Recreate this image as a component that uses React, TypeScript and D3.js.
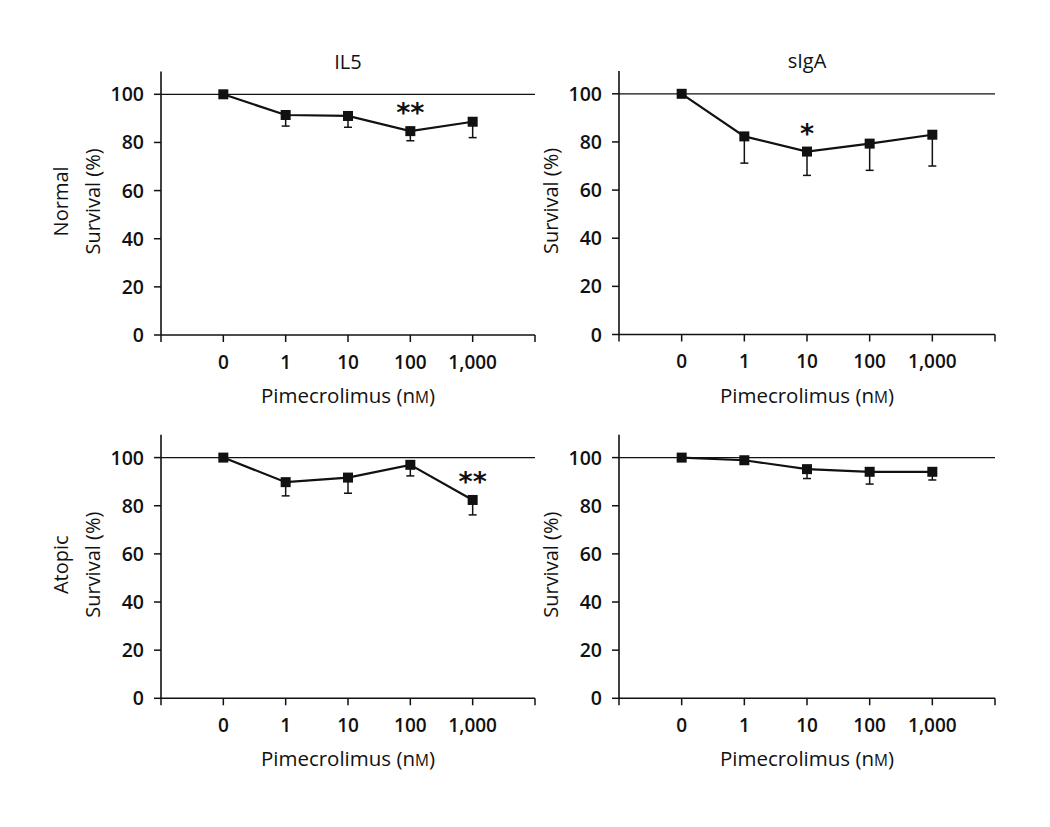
import React from "react";
import * as d3 from "d3";

const doses = ["0", "1", "10", "100", "1,000"];
const yTicks = [0, 20, 40, 60, 80, 100];

const il5NormalMean = [100, 91.4, 91, 84.7, 88.6];
const il5NormalErr = [0, 4.6, 4.7, 4.0, 6.6];
const sigaNormalMean = [100, 82.3, 76, 79.3, 83];
const sigaNormalErr = [0, 11.1, 9.9, 11.1, 13];
const il5AtopicMean = [100, 89.8, 91.7, 97, 82.4];
const il5AtopicErr = [0, 5.7, 6.5, 4.6, 6.2];
const sigaAtopicMean = [100, 98.9, 95.2, 94.1, 94.1];
const sigaAtopicErr = [0, 1, 3.9, 5.1, 3.4];

const il5NormalSig = [null, null, null, "**", null];
const sigaNormalSig = [null, null, "*", null, null];
const il5AtopicSig = [null, null, null, null, "**"];
const sigaAtopicSig = [null, null, null, null, null];

const FONT = "'Open Sans', 'DejaVu Sans', sans-serif";
const INK = "#111";

type PanelProps = {
  x0: number;
  y0: number;
  width: number;
  mean: number[];
  err: number[];
  sig: (string | null)[];
  title?: string;
  rowLabel?: string;
};

function Panel({ x0, y0, width, mean, err, sig, title, rowLabel }: PanelProps) {
  const y = d3.scaleLinear().domain([0, 100]).range([y0, y0 - 240.7]);
  const slots = ["", ...doses, " "];
  const x = d3.scalePoint<string>().domain(slots).range([x0, x0 + width]);
  const line = d3
    .line<number>()
    .x((_, i) => x(doses[i]) as number)
    .y((d) => y(d));
  const axisTop = y(109.5);
  const right = x0 + width;
  const midX = x(doses[2]) as number;
  const labelY = y(55.5);
  return (
    <g>
      {title && (
        <text x={midX} y={y0 - 266.5} textAnchor="middle" fontSize={20} fontFamily={FONT} fill={INK}>
          {title}
        </text>
      )}
      {rowLabel && (
        <text
          transform={`translate(${x0 - 100},${labelY}) rotate(-90)`}
          textAnchor="middle"
          dy="0.35em"
          fontSize={20}
          fontFamily={FONT}
          fill={INK}
        >
          {rowLabel}
        </text>
      )}
      <text
        transform={`translate(${x0 - 68},${labelY}) rotate(-90)`}
        textAnchor="middle"
        dy="0.35em"
        fontSize={20}
        fontFamily={FONT}
        fill={INK}
      >
        Survival (%)
      </text>
      <line x1={x0} x2={right} y1={y(100)} y2={y(100)} stroke={INK} strokeWidth={1.2} />
      <line x1={x0} x2={x0} y1={axisTop} y2={y0} stroke={INK} strokeWidth={1.6} />
      {yTicks.map((t) => (
        <g key={t}>
          <line x1={x0 - 7} x2={x0} y1={y(t)} y2={y(t)} stroke={INK} strokeWidth={1.5} />
          <text
            x={x0 - 17}
            y={y(t)}
            dy="0.36em"
            textAnchor="end"
            fontSize={19.5}
            fontWeight={600}
            fontFamily={FONT}
            fill={INK}
          >
            {t}
          </text>
        </g>
      ))}
      <line x1={x0} x2={right} y1={y0} y2={y0} stroke={INK} strokeWidth={1.6} />
      {slots.map((s, i) => (
        <line
          key={i}
          x1={x(s) as number}
          x2={x(s) as number}
          y1={y0}
          y2={y0 + 7}
          stroke={INK}
          strokeWidth={1.5}
        />
      ))}
      {doses.map((d) => (
        <text
          key={d}
          x={x(d) as number}
          y={y0 + 27}
          dy="0.36em"
          textAnchor="middle"
          fontSize={19}
          fontWeight={600}
          fontFamily={FONT}
          fill={INK}
        >
          {d}
        </text>
      ))}
      <text x={midX} y={y0 + 68} textAnchor="middle" fontSize={20.5} fontFamily={FONT} fill={INK}>
        Pimecrolimus (n<tspan fontSize={15.5}>M</tspan>)
      </text>
      {mean.map((m, i) =>
        err[i] > 0 ? (
          <g key={"e" + i}>
            <line
              x1={x(doses[i]) as number}
              x2={x(doses[i]) as number}
              y1={y(m)}
              y2={y(m - err[i])}
              stroke={INK}
              strokeWidth={1.5}
            />
            <line
              x1={(x(doses[i]) as number) - 4}
              x2={(x(doses[i]) as number) + 4}
              y1={y(m - err[i])}
              y2={y(m - err[i])}
              stroke={INK}
              strokeWidth={1.5}
            />
          </g>
        ) : null
      )}
      <path d={line(mean) as string} fill="none" stroke={INK} strokeWidth={2.2} />
      {mean.map((m, i) => (
        <rect
          key={"p" + i}
          x={(x(doses[i]) as number) - 5}
          y={y(m) - 5}
          width={10}
          height={10}
          fill={INK}
        />
      ))}
      {sig.map((s, i) =>
        s ? (
          <text
            key={"s" + i}
            x={x(doses[i]) as number}
            y={y(mean[i]) - 9}
            textAnchor="middle"
            fontSize={27}
            fontWeight={700}
            fontFamily="'DejaVu Sans', sans-serif"
            fill={INK}
          >
            {s}
          </text>
        ) : null
      )}
    </g>
  );
}

export default function App() {
  return (
    <svg width={1034} height={811} style={{ display: "block", background: "#fff" }}>
      <g transform="translate(-8,-8)">
        <Panel x0={161} y0={335} width={374} mean={il5NormalMean} err={il5NormalErr} sig={il5NormalSig} title="IL5" rowLabel="Normal" />
        <Panel x0={619} y0={334.5} width={376} mean={sigaNormalMean} err={sigaNormalErr} sig={sigaNormalSig} title="sIgA" />
        <Panel x0={161} y0={698.3} width={374} mean={il5AtopicMean} err={il5AtopicErr} sig={il5AtopicSig} rowLabel="Atopic" />
        <Panel x0={619} y0={698.3} width={376} mean={sigaAtopicMean} err={sigaAtopicErr} sig={sigaAtopicSig} />
      </g>
    </svg>
  );
}
